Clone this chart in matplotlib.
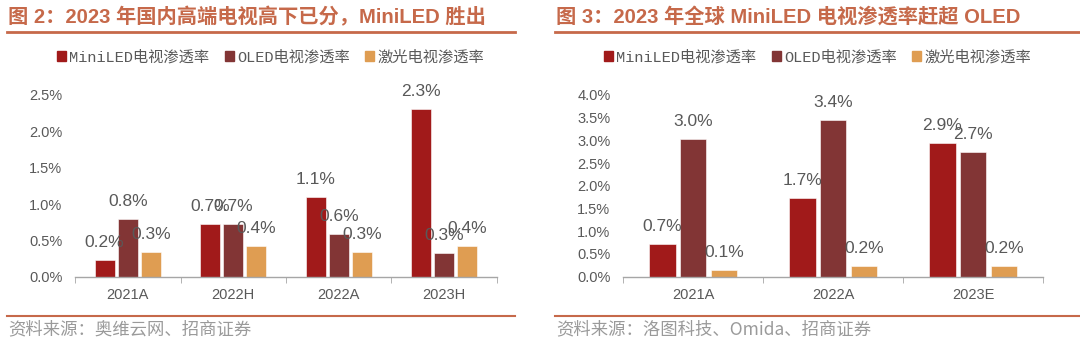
import matplotlib
matplotlib.use('Agg')
import matplotlib.pyplot as plt
import numpy as np
from matplotlib.patches import Patch

plt.rcParams['font.family'] = ['Liberation Sans', 'Noto Sans CJK SC']

# ---- data ----
series = ['MiniLED电视渗透率', 'OLED电视渗透率', '激光电视渗透率']
colors = ['#A11A1A', '#823535', '#DF9D52']

cats_l = ['2021A', '2022H', '2022A', '2023H']
mini_l = [0.23, 0.72, 1.10, 2.31]
oled_l = [0.79, 0.72, 0.59, 0.32]
laser_l = [0.34, 0.42, 0.34, 0.42]

cats_r = ['2021A', '2022A', '2023E']
mini_r = [0.73, 1.73, 2.94]
oled_r = [3.04, 3.44, 2.74]
laser_r = [0.14, 0.24, 0.24]

title_l = '图 2：2023 年国内高端电视高下已分，MiniLED 胜出'
title_r = '图 3：2023 年全球 MiniLED 电视渗透率赶超 OLED'
src_l = '资料来源：奥维云网、招商证券'
src_r = '资料来源：洛图科技、Omida、招商证券'

W, H = 1080, 344
ORANGE = '#C6694A'
fig = plt.figure(figsize=(W / 100, H / 100), dpi=100)


def px(x0, y0, w, h):
    # pixel box (top-left origin) -> figure fraction
    return [x0 / W, 1 - (y0 + h) / H, w / W, h / H]


def panel(rect, cats, vals, ymax, ystep, title, src, hx0, hx1, legx):
    ax = fig.add_axes(rect)
    x = np.arange(len(cats))
    off, bw = 0.22, 0.19
    for i, (v, c) in enumerate(zip(vals, colors)):
        xs = x + (i - 1) * off
        ax.bar(xs, v, width=bw, color=c, edgecolor='white', linewidth=0.4, zorder=2)
        for xx, yy in zip(xs, v):
            ax.text(xx, yy + ymax * 0.055, f'{yy:.1f}%', ha='center', va='bottom',
                    fontsize=12.5, color='#595959', clip_on=False)
    ax.set_xlim(-0.5, len(cats) - 0.5)
    ax.set_ylim(0, ymax)
    ax.set_yticks(np.arange(0, ymax + 1e-9, ystep))
    ax.set_yticklabels([f'{t:.1f}%' for t in np.arange(0, ymax + 1e-9, ystep)])
    ax.set_xticks(x)
    ax.set_xticklabels(cats)
    ax.set_xticks(np.arange(-0.5, len(cats), 1), minor=True)
    ax.tick_params(axis='x', which='major', length=0, pad=8, labelsize=10.5, labelcolor='#595959')
    ax.tick_params(axis='x', which='minor', length=4, direction='out', color='#A6A6A6')
    ax.tick_params(axis='y', length=0, pad=9, labelsize=10.5, labelcolor='#595959')
    for s in ['top', 'right', 'left']:
        ax.spines[s].set_visible(False)
    ax.spines['bottom'].set_color('#A6A6A6')
    ax.spines['bottom'].set_linewidth(1.0)

    # title + rules
    fig.text((hx0 + 1) / W, 1 - 17 / H, title, ha='left', va='center', fontsize=14.6,
             fontweight='bold', color=ORANGE, family=['Liberation Sans', 'Noto Sans CJK SC'])
    fig.add_artist(plt.Line2D([hx0 / W, hx1 / W], [1 - 32 / H] * 2, color=ORANGE, lw=2))
    fig.add_artist(plt.Line2D([hx0 / W, hx1 / W], [1 - 316 / H] * 2, color=ORANGE, lw=1.5))
    fig.text((hx0 + 1) / W, 1 - 329 / H, src, ha='left', va='center', fontsize=12.5,
             color='#9A9A9A', family=['Noto Sans CJK SC'])

    handles = [Patch(color=c) for c in colors]
    fig.legend(handles, series, loc='center left', bbox_to_anchor=(legx / W, 1 - 57 / H),
               ncol=3, frameon=False, handlelength=0.6, handleheight=0.6,
               handletextpad=0.2, columnspacing=1.0, borderpad=0, borderaxespad=0,
               prop={'family': ['Liberation Mono', 'Noto Sans CJK SC'], 'size': 11},
               labelcolor='#595959')
    return ax


panel(px(75, 95, 422, 181.7), cats_l, [mini_l, oled_l, laser_l], 2.5, 0.5,
      title_l, src_l, 7, 515, 57)
panel(px(623, 95, 420, 181.7), cats_r, [mini_r, oled_r, laser_r], 4.0, 0.5,
      title_r, src_r, 555, 1080, 604)

fig.savefig('out.png', dpi=100)
